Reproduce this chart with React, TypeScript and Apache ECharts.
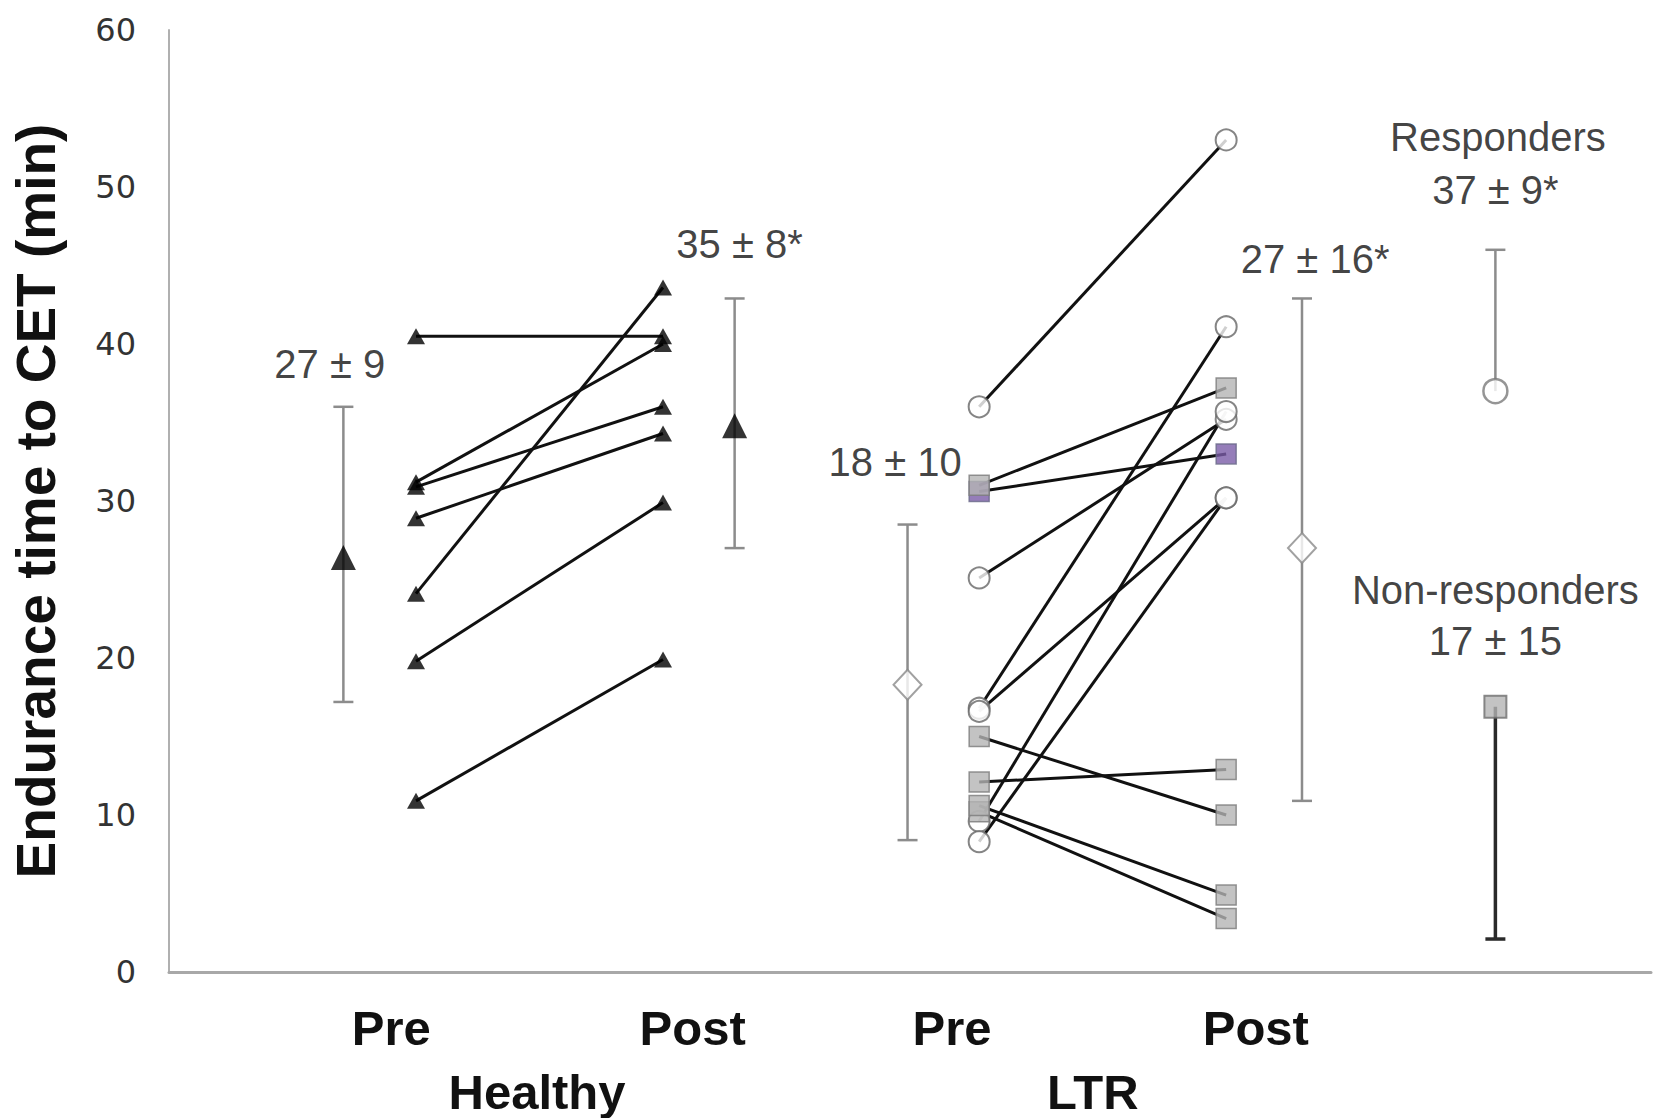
import React, { useEffect, useRef } from "react";
import * as echarts from "echarts";

// ---- data ----
const yTickMax = 60;
const yTickStep = 10;

// x positions (value axis units)
const xHealthyPre = 1.0;
const xHealthyPost = 2.0;
const xLtrPre = 3.28;
const xLtrPost = 4.28;

// Healthy individuals
const healthyPre = [40.5, 31.2, 30.9, 28.9, 24.1, 19.8, 10.9];
const healthyPost = [40.5, 40.0, 36.0, 34.3, 43.6, 29.9, 19.9];

// LTR responders (circles)
const respPre = [36.0, 25.1, 16.8, 16.6, 9.6, 8.3];
const respPost = [53.0, 35.2, 41.1, 30.2, 35.7, 30.2];

// LTR non-responders (squares)
const nonPre = [31.0, 30.6, 15.0, 12.1, 10.6, 10.2];
const nonPost = [37.2, 33.0, 10.0, 12.9, 4.9, 3.4];
const nonHighlight = [false, true, false, false, false, false];

// group means with error bars
const meanX = [0.706, 2.29, 2.99, 4.587];
const meanVal = [26.4, 34.8, 18.3, 27.0];
const meanLow = [17.2, 27.0, 8.4, 10.9];
const meanHigh = [36.0, 42.9, 28.5, 42.9];
const meanKind = ["triangle", "triangle", "diamond", "diamond"];

// responders / non-responders summary
const subX = 5.37;
const respMean = 37.0;
const respHigh = 46.0;
const nonMean = 16.9;
const nonLow = 2.1;

// annotations [text, x, y]
const annoText = ["27 ± 9", "35 ± 8*", "18 ± 10", "27 ± 16*", "Responders", "37 ± 9*", "Non-responders", "17 ± 15"];
const annoX = [0.651, 2.31, 2.94, 4.64, 5.38, 5.37, 5.37, 5.37];
const annoY = [38.7, 46.4, 32.5, 45.4, 53.2, 49.8, 24.3, 21.1];

// x category labels
const phaseLabels = ["Pre", "Post", "Pre", "Post"];
const phaseX = [0.9, 2.12, 3.17, 4.4];
const groupLabels = ["Healthy", "LTR"];
const groupX = [1.49, 3.74];

const yTitle = "Endurance time to CET (min)";

const FONT = "'Liberation Sans', Arial, sans-serif";

export default function App() {
  const ref = useRef<HTMLDivElement>(null);

  useEffect(() => {
    const chart = echarts.init(ref.current!, null, { renderer: "svg" });

    const pairs: number[][] = [];
    healthyPre.forEach((v, i) => pairs.push([xHealthyPre, v, xHealthyPost, healthyPost[i]]));
    respPre.forEach((v, i) => pairs.push([xLtrPre, v, xLtrPost, respPost[i]]));
    nonPre.forEach((v, i) => pairs.push([xLtrPre, v, xLtrPost, nonPost[i]]));

    const errData: number[][] = meanX.map((x, i) => [x, meanLow[i], meanHigh[i], 1, 1]);
    errData.push([subX, respMean, respHigh, 0, 1]);

    const grayMarker = { color: "#b4b4b4", borderColor: "#7a7a7a", borderWidth: 1.5 };
    const circleMarker = { color: "#ffffff", borderColor: "#666666", borderWidth: 2 };

    const option: any = {
      animation: false,
      backgroundColor: "#ffffff",
      grid: { left: 166, right: 3, top: 30, bottom: 146 },
      xAxis: {
        type: "value",
        min: 0,
        max: 6,
        axisLine: { show: true, lineStyle: { color: "#a8a8a8", width: 3 } },
        axisTick: { show: false },
        axisLabel: { show: false },
        splitLine: { show: false },
      },
      yAxis: {
        type: "value",
        min: 0,
        max: yTickMax,
        interval: yTickStep,
        name: yTitle,
        nameLocation: "middle",
        nameGap: 106,
        nameTextStyle: { fontFamily: FONT, fontWeight: "bold", fontSize: 55, color: "#111" },
        axisLine: { show: true, lineStyle: { color: "#b0b0b0", width: 2 } },
        axisTick: { show: false },
        splitLine: { show: false },
        axisLabel: {
          fontFamily: "'DejaVu Sans', Verdana, sans-serif",
          fontSize: 32,
          color: "#333",
          margin: 33,
        },
      },
      series: [
        {
          type: "custom",
          z: 2,
          data: pairs,
          encode: { x: [0, 2], y: [1, 3] },
          renderItem: (params: any, api: any) => {
            const p1 = api.coord([api.value(0), api.value(1)]);
            const p2 = api.coord([api.value(2), api.value(3)]);
            return {
              type: "line",
              shape: { x1: p1[0], y1: p1[1], x2: p2[0], y2: p2[1] },
              style: { stroke: "#111", lineWidth: 3 },
            };
          },
        },
        {
          type: "custom",
          z: 2,
          data: errData,
          encode: { x: 0, y: [1, 2] },
          renderItem: (params: any, api: any) => {
            const x = api.value(0);
            const lo = api.coord([x, api.value(1)]);
            const hi = api.coord([x, api.value(2)]);
            const w = 10;
            const st = { stroke: "#8c8c8c", lineWidth: 2.5 };
            const children: any[] = [
              { type: "line", shape: { x1: lo[0], y1: lo[1], x2: hi[0], y2: hi[1] }, style: st },
            ];
            if (api.value(3)) children.push({ type: "line", shape: { x1: lo[0] - w, y1: lo[1], x2: lo[0] + w, y2: lo[1] }, style: st });
            if (api.value(4)) children.push({ type: "line", shape: { x1: hi[0] - w, y1: hi[1], x2: hi[0] + w, y2: hi[1] }, style: st });
            return { type: "group", children };
          },
        },
        {
          type: "custom",
          z: 2,
          data: [[subX, nonLow, nonMean]],
          encode: { x: 0, y: [1, 2] },
          renderItem: (params: any, api: any) => {
            const x = api.value(0);
            const lo = api.coord([x, api.value(1)]);
            const hi = api.coord([x, api.value(2)]);
            const st = { stroke: "#2a2a2a", lineWidth: 3.5 };
            return {
              type: "group",
              children: [
                { type: "line", shape: { x1: lo[0], y1: lo[1], x2: hi[0], y2: hi[1] }, style: st },
                { type: "line", shape: { x1: lo[0] - 10, y1: lo[1], x2: lo[0] + 10, y2: lo[1] }, style: st },
              ],
            };
          },
        },
        {
          type: "scatter",
          z: 5,
          symbol: "triangle",
          symbolSize: [18, 16],
          itemStyle: { color: "#000" },
          data: [
            ...healthyPre.map((v) => [xHealthyPre, v]),
            ...healthyPost.map((v) => [xHealthyPost, v]),
          ],
        },
        {
          type: "scatter",
          z: 5,
          symbol: "circle",
          symbolSize: 21,
          itemStyle: circleMarker,
          data: [...respPre.map((v) => [xLtrPre, v]), ...respPost.map((v) => [xLtrPost, v])],
        },
        {
          type: "scatter",
          z: 6,
          symbol: "rect",
          symbolSize: 20,
          itemStyle: grayMarker,
          data: [
            ...nonPre.map((v, i) => ({
              value: [xLtrPre, v],
              itemStyle: nonHighlight[i] ? { color: "#7a5ca8", borderColor: "#6a6a8a" } : undefined,
            })),
            ...nonPost.map((v, i) => ({
              value: [xLtrPost, v],
              itemStyle: nonHighlight[i] ? { color: "#7a5ca8", borderColor: "#6a6a8a" } : undefined,
            })),
          ].reverse(),
        },
        {
          type: "scatter",
          z: 7,
          data: meanX.map((x, i) => ({
            value: [x, meanVal[i]],
            symbol: meanKind[i],
            symbolSize: meanKind[i] === "triangle" ? [25, 25] : [28, 30],
            itemStyle:
              meanKind[i] === "triangle"
                ? { color: "#000" }
                : { color: "#fff", borderColor: "#8a8a8a", borderWidth: 2 },
          })),
        },
        {
          type: "scatter",
          z: 7,
          data: [
            { value: [subX, respMean], symbol: "circle", symbolSize: 24, itemStyle: { color: "#fff", borderColor: "#7a7a7a", borderWidth: 2.5 } },
            { value: [subX, nonMean], symbol: "rect", symbolSize: 22, itemStyle: { color: "#b4b4b4", borderColor: "#6e6e6e", borderWidth: 2 } },
          ],
        },
        {
          type: "scatter",
          z: 8,
          symbolSize: 1,
          itemStyle: { color: "transparent" },
          label: {
            show: true,
            position: "inside",
            formatter: (p: any) => p.name,
            fontFamily: FONT,
            fontSize: 40,
            color: "#111",
          },
          data: annoText.map((t, i) => ({ name: t, value: [annoX[i], annoY[i]] })),
        },
      ],
    };

    chart.setOption(option);

    const toPx = (v: number) => chart.convertToPixel({ xAxisIndex: 0 }, v) as number;
    const graphics: any[] = [];
    phaseLabels.forEach((t, i) => {
      graphics.push({
        type: "text",
        x: toPx(phaseX[i]),
        y: 1028,
        style: { text: t, font: `bold 49px ${FONT}`, fill: "#111", align: "center", verticalAlign: "middle" },
      });
    });
    groupLabels.forEach((t, i) => {
      graphics.push({
        type: "text",
        x: toPx(groupX[i]),
        y: 1092,
        style: { text: t, font: `bold 49px ${FONT}`, fill: "#111", align: "center", verticalAlign: "middle" },
      });
    });
    chart.setOption({ graphic: graphics });

    return () => chart.dispose();
  }, []);

  return <div ref={ref} style={{ position: "fixed", left: 0, top: 0, width: 1654, height: 1118 }} />;
}
